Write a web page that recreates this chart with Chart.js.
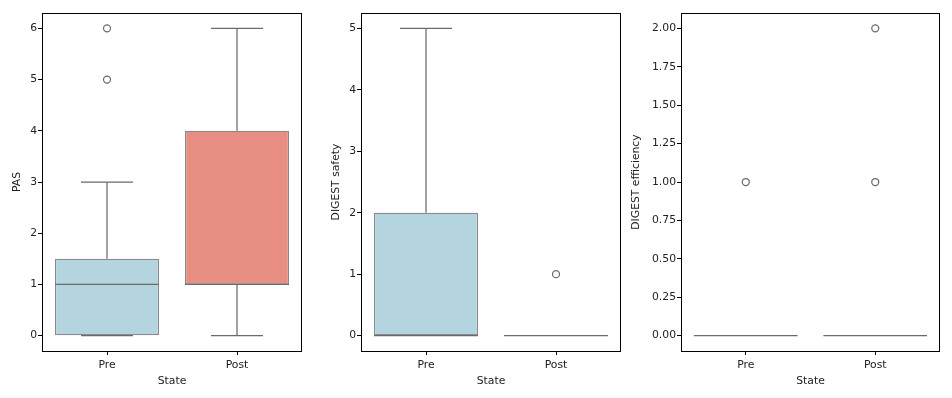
<!DOCTYPE html>
<html>
<head>
<meta charset="utf-8">
<script src="https://cdn.jsdelivr.net/npm/chart.js@4/dist/chart.umd.min.js"></script>
<style>
  html, body { margin:0; padding:0; background:#fff; }
  #wrap { position:relative; width:952px; height:398px; }
  .panel { position:absolute; top:0; height:398px; }
</style>
</head>
<body>
<div id="wrap">
  <div class="panel" style="left:0;width:317px"><canvas id="c1"></canvas></div>
  <div class="panel" style="left:317px;width:319px"><canvas id="c2"></canvas></div>
  <div class="panel" style="left:628px;width:324px"><canvas id="c3"></canvas></div>
</div>
<script>
/* ===========================
   DATA
=========================== */
const states = ["Pre", "Post"];

// PAS
const pasQ1 = [0, 1];
const pasMedian = [1, 1];
const pasQ3 = [1.5, 4];
const pasLow = [0, 0];
const pasHigh = [3, 6];
const pasOutliers = [{x:"Pre", y:5}, {x:"Pre", y:6}];
const pasTicks = [0, 1, 2, 3, 4, 5, 6];

// DIGEST safety
const safetyQ1 = [0, 0];
const safetyMedian = [0, 0];
const safetyQ3 = [2, 0];
const safetyLow = [0, 0];
const safetyHigh = [5, 0];
const safetyOutliers = [{x:"Post", y:1}];
const safetyTicks = [0, 1, 2, 3, 4, 5];

// DIGEST efficiency
const effQ1 = [0, 0];
const effMedian = [0, 0];
const effQ3 = [0, 0];
const effLow = [0, 0];
const effHigh = [0, 0];
const effOutliers = [{x:"Pre", y:1}, {x:"Post", y:1}, {x:"Post", y:2}];
const effTicks = [0, 0.25, 0.5, 0.75, 1, 1.25, 1.5, 1.75, 2];

const boxColors = ["#b4d4df", "#e98e83"];
const lineColor = "#6b6b6b";

Chart.defaults.font.family = "'DejaVu Sans', sans-serif";
Chart.defaults.font.size = 10.8;
Chart.defaults.color = "#222";

/* ===========================
   BOX PLOT PLUGIN
=========================== */
const boxPlugin = {
  id: "boxLines",
  afterDatasetsDraw(chart, args, opts){
    const ctx = chart.ctx;
    const x = chart.scales.x;
    const y = chart.scales.y;
    const meta = chart.getDatasetMeta(0);
    ctx.save();
    ctx.strokeStyle = lineColor;
    ctx.lineWidth = 1.25;
    opts.median.forEach((m, i) => {
      const bar = meta.data[i];
      const cx = x.getPixelForValue(i);
      const half = bar.width / 2;
      const cap = half / 2;
      const yq1 = y.getPixelForValue(opts.q1[i]);
      const yq3 = y.getPixelForValue(opts.q3[i]);
      const yLo = y.getPixelForValue(opts.low[i]);
      const yHi = y.getPixelForValue(opts.high[i]);
      ctx.beginPath();
      // whiskers
      ctx.moveTo(cx, yq3); ctx.lineTo(cx, yHi);
      ctx.moveTo(cx - cap, yHi); ctx.lineTo(cx + cap, yHi);
      ctx.moveTo(cx, yq1); ctx.lineTo(cx, yLo);
      ctx.moveTo(cx - cap, yLo); ctx.lineTo(cx + cap, yLo);
      // median
      const ym = y.getPixelForValue(m);
      ctx.moveTo(cx - half, ym); ctx.lineTo(cx + half, ym);
      ctx.stroke();
    });
    ctx.restore();
  }
};

const framePlugin = {
  id: "frame",
  afterDraw(chart){
    const a = chart.chartArea;
    const ctx = chart.ctx;
    ctx.save();
    ctx.strokeStyle = "#000";
    ctx.lineWidth = 1;
    ctx.strokeRect(Math.round(a.left) + 0.5, Math.round(a.top) + 0.5,
                   Math.round(a.right - a.left) - 1, Math.round(a.bottom - a.top));
    ctx.restore();
  }
};

/* ===========================
   BUILD ONE PANEL
=========================== */
function makePanel(id, cfg){
  return new Chart(document.getElementById(id), {
    type: "bar",
    data: {
      labels: states,
      datasets: [
        {
          type: "bar",
          data: cfg.q1.map((v, i) => [v, cfg.q3[i]]),
          backgroundColor: boxColors,
          borderColor: "#8a8a8a",
          borderWidth: 1.25,
          borderSkipped: false,
          categoryPercentage: 0.8,
          barPercentage: 1
        },
        {
          type: "line",
          data: cfg.outliers,
          showLine: false,
          pointRadius: 3.5,
          pointBorderWidth: 1.25,
          pointBorderColor: lineColor,
          pointBackgroundColor: "rgba(0,0,0,0)"
        }
      ]
    },
    options: {
      responsive: true,
      maintainAspectRatio: false,
      animation: false,
      layout: { padding: { top: 13, right: cfg.padRight, left: cfg.padLeft, bottom: 10 } },
      plugins: {
        legend: { display: false },
        tooltip: { enabled: false },
        boxLines: { q1: cfg.q1, q3: cfg.q3, median: cfg.median, low: cfg.low, high: cfg.high }
      },
      scales: {
        x: {
          offset: true,
          grid: { display: true, drawOnChartArea: false, tickLength: 4, color: "#000", offset: false },
          border: { display: false },
          ticks: { color: "#222", padding: 4 },
          title: { display: true, text: "State", color: "#222", padding: { top: 2, bottom: 0 } },
          afterFit(s){ s.height = 37; }
        },
        y: {
          min: cfg.min,
          max: cfg.max,
          afterBuildTicks(s){ s.ticks = cfg.ticks.map(v => ({ value: v })); },
          grid: { display: true, drawOnChartArea: false, tickLength: 4, color: "#000" },
          border: { display: false },
          ticks: { color: "#222", padding: 1, callback: cfg.fmt },
          title: { display: true, text: cfg.title, color: "#222", padding: { top: 0, bottom: 2 } },
          afterFit(s){ s.width = cfg.yWidth; }
        }
      }
    },
    plugins: [boxPlugin, framePlugin]
  });
}

makePanel("c1", {
  q1: pasQ1, q3: pasQ3, median: pasMedian, low: pasLow, high: pasHigh,
  outliers: pasOutliers, ticks: pasTicks, min: -0.3, max: 6.3,
  title: "PAS", padLeft: 11, yWidth: 31, padRight: 15, fmt: v => String(v)
});

makePanel("c2", {
  q1: safetyQ1, q3: safetyQ3, median: safetyMedian, low: safetyLow, high: safetyHigh,
  outliers: safetyOutliers, ticks: safetyTicks, min: -0.25, max: 5.25,
  title: "DIGEST safety", padLeft: 13, yWidth: 31, padRight: 15, fmt: v => String(v)
});

makePanel("c3", {
  q1: effQ1, q3: effQ3, median: effMedian, low: effLow, high: effHigh,
  outliers: effOutliers, ticks: effTicks, min: -0.1, max: 2.1,
  title: "DIGEST efficiency", padLeft: 2, yWidth: 51, padRight: 12, fmt: v => v.toFixed(2)
});
</script>
</body>
</html>
